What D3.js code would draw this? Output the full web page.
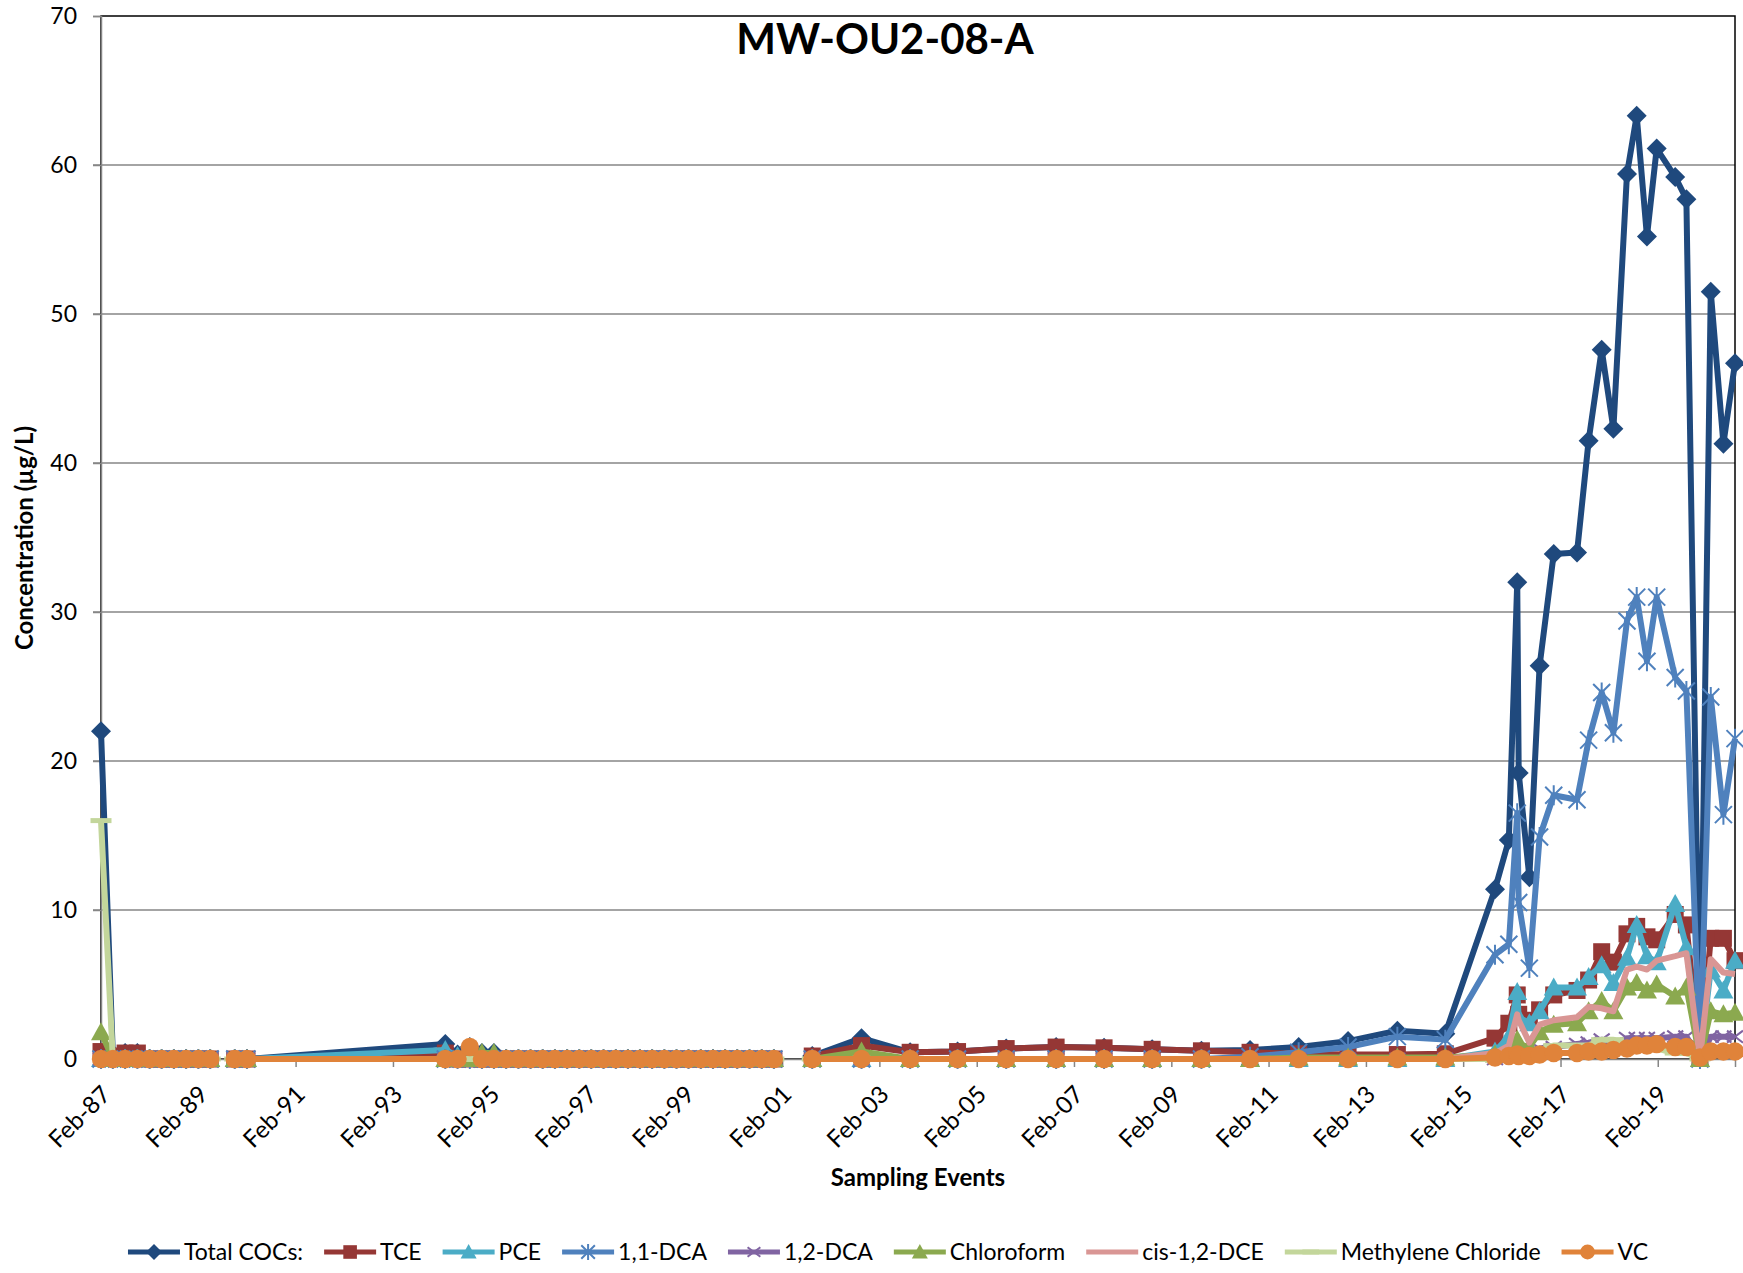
<!DOCTYPE html>
<html>
<head>
<meta charset="utf-8">
<script src="https://cdn.jsdelivr.net/npm/d3@7/dist/d3.min.js"></script>
<style>
  body { margin: 0; background: #fff; }
  text { font-family: Lato, "Open Sans", sans-serif; fill: #000; }
</style>
</head>
<body>
<div class="chart"></div>
<script>
var width = 1743, height = 1273;

// sampling dates (null rows = no sample, line breaks there)
var dates = [
  // 1987 - 1990
  "1987-02-01","1987-05-01","1987-08-01","1987-11-01","1988-02-01","1988-05-01","1988-08-01",
  "1988-11-01","1989-02-01","1989-05-01","1989-08-01","1989-11-01","1990-02-01",
  // 1994 - 2000 quarterly
  "1994-03-01","1994-06-01","1994-09-01","1994-12-01","1995-03-01","1995-06-01","1995-09-01",
  "1995-12-01","1996-03-01","1996-06-01","1996-09-01","1996-12-01","1997-03-01","1997-06-01",
  "1997-09-01","1997-12-01","1998-03-01","1998-06-01","1998-09-01","1998-12-01","1999-03-01",
  "1999-06-01","1999-09-01","1999-12-01","2000-03-01","2000-06-01","2000-09-01","2000-12-01",
  "2001-05-01",
  // 2001 - 2014 annual
  "2001-09-15","2002-09-20","2003-09-20","2004-09-10","2005-09-10","2006-09-20","2007-09-15",
  "2008-09-10","2009-09-15","2010-09-15","2011-09-15","2012-09-20","2013-09-25","2014-09-20",
  // 2015 - 2020
  "2015-09-28","2016-01-10","2016-03-13","2016-03-24","2016-06-12","2016-08-28","2016-12-12",
  "2017-06-05","2017-08-31","2017-12-07","2018-03-05","2018-06-15","2018-08-27","2018-11-12",
  "2019-01-24","2019-06-12","2019-09-04","2019-12-15","2020-03-05","2020-06-08","2020-09-03"
];

var totalCOCs = [
  22.0, 0.3, 0.4, 0.4, 0, 0, 0, 0, 0, 0, null, 0, 0,
  1.0, 0.3, 0.8, 0.4, 0.4, 0, 0, 0, 0, 0, 0, 0, 0, 0, 0, 0, 0, 0, 0, 0, 0, 0, 0, 0, 0, 0, 0, 0,
  null,
  0.2, 1.4, 0.45, 0.5, 0.7, 0.8, 0.75, 0.65, 0.55, 0.6, 0.8, 1.2, 1.9, 1.7,
  11.4, 14.7, 32.0, 19.2, 12.2, 26.4, 33.9, 34.0, 41.5, 47.6, 42.3, 59.4, 63.3, 55.2, 61.1, 59.2, 57.7, 0.3, 51.5, 41.3, 46.7
];
var tce = [
  0.5, 0.2, 0.4, 0.4, 0, 0, 0, 0, 0, 0, null, 0, 0,
  0.4, 0, 0, 0, 0, 0, 0, 0, 0, 0, 0, 0, 0, 0, 0, 0, 0, 0, 0, 0, 0, 0, 0, 0, 0, 0, 0, 0,
  null,
  0.2, 0.9, 0.45, 0.5, 0.7, 0.8, 0.75, 0.65, 0.55, 0.45, 0.35, 0.3, 0.3, 0.35,
  1.4, 2.4, 4.3, 3.0, 2.6, 3.3, 4.3, 4.6, 5.3, 7.2, 6.5, 8.4, 8.9, 8.2, 8.0, 9.7, 9.0, 0.1, 8.1, 8.1, 6.6
];
var pce = [
  0, 0, 0, 0, 0, 0, 0, 0, 0, 0, null, 0, 0,
  0.6, 0.2, 0, 0, 0, 0, 0, 0, 0, 0, 0, 0, 0, 0, 0, 0, 0, 0, 0, 0, 0, 0, 0, 0, 0, 0, 0, 0,
  null,
  0, 0, 0, 0, 0, 0, 0, 0, 0, 0, 0, 0, 0, 0,
  0.5, 1.5, 4.5, 2.8, 2.4, 3.2, 4.8, 4.8, 5.5, 6.3, 5.1, 6.8, 9.0, 6.9, 6.5, 10.4, 7.5, 0, 6.0, 4.6, 6.6
];
var dca11 = [
  0, 0, 0, 0, 0, 0, 0, 0, 0, 0, null, 0, 0,
  0, 0, 0, 0, 0, 0, 0, 0, 0, 0, 0, 0, 0, 0, 0, 0, 0, 0, 0, 0, 0, 0, 0, 0, 0, 0, 0, 0,
  null,
  0, 0, 0, 0, 0, 0, 0, 0, 0, 0.15, 0.45, 0.8, 1.5, 1.3,
  7.0, 7.7, 16.5, 10.5, 6.1, 14.9, 17.7, 17.4, 21.4, 24.6, 21.9, 29.4, 31.0, 26.7, 31.0, 25.6, 24.7, 0, 24.3, 16.4, 21.5
];
var dca12 = [
  0, 0, 0, 0, 0, 0, 0, 0, 0, 0, null, 0, 0,
  0, 0, 0, 0, 0, 0, 0, 0, 0, 0, 0, 0, 0, 0, 0, 0, 0, 0, 0, 0, 0, 0, 0, 0, 0, 0, 0, 0,
  null,
  0, 0, 0, 0, 0, 0, 0, 0, 0, 0, 0, 0, 0, 0,
  0, 0.1, 0.3, 0.3, 0.5, 0.7, 0.8, 1.0, 1.1, 1.3, 1.0, 1.4, 1.4, 1.4, 1.4, 1.5, 1.5, 0, 1.5, 1.5, 1.5
];
var chloroform = [
  1.8, 0, 0, 0, 0, 0, 0, 0, 0, 0, null, 0, 0,
  0, 0, 0, 0.4, 0.4, 0, 0, 0, 0, 0, 0, 0, 0, 0, 0, 0, 0, 0, 0, 0, 0, 0, 0, 0, 0, 0, 0, 0,
  null,
  0, 0.5, 0, 0, 0, 0, 0, 0, 0, 0, 0.1, 0.1, 0.1, 0.1,
  0.3, 0.5, 1.3, 1.0, 0.8, 1.8, 2.3, 2.4, 3.2, 3.9, 3.2, 4.8, 5.1, 4.6, 5.0, 4.2, 4.8, 0, 3.2, 3.0, 3.1
];
var cisDCE = [
  0, 0, 0, 0, 0, 0, 0, 0, 0, 0, null, 0, 0,
  0, 0, 0, 0, 0, 0, 0, 0, 0, 0, 0, 0, 0, 0, 0, 0, 0, 0, 0, 0, 0, 0, 0, 0, 0, 0, 0, 0,
  null,
  0, 0, 0, 0, 0, 0, 0, 0, 0, 0, 0, 0, 0, 0,
  0.4, 0.9, 3.0, 2.6, 1.1, 2.3, 2.6, 2.8, 3.5, 3.4, 3.2, 6.0, 6.2, 6.0, 6.6, 6.9, 7.1, 0, 6.7, 5.8, 5.7
];
var meCl = [
  16.0, 0, 0, 0, 0, 0, 0, 0, 0, 0, null, 0, 0,
  0, 0, 0, 0, 0, 0, 0, 0, 0, 0, 0, 0, 0, 0, 0, 0, 0, 0, 0, 0, 0, 0, 0, 0, 0, 0, 0, 0,
  null,
  0, 0, 0, 0, 0, 0, 0, 0, 0, 0, 0, 0, 0, 0,
  0, 0, 0, 0, 0.3, 0.5, 0.9, 0.9, 0.9, 1.3, 1.3, 0.7, 0.7, 0.7, 0.7, 0.4, 0.4, 0, 0.4, 0.4, 0.4
];
var vc = [
  0, 0, 0, 0, 0, 0, 0, 0, 0, 0, null, 0, 0,
  0, 0, 0.8, 0, 0, 0, 0, 0, 0, 0, 0, 0, 0, 0, 0, 0, 0, 0, 0, 0, 0, 0, 0, 0, 0, 0, 0, 0,
  null,
  0, 0, 0, 0, 0, 0, 0, 0, 0, 0, 0, 0, 0, 0,
  0.1, 0.2, 0.3, 0.2, 0.2, 0.3, 0.4, 0.4, 0.5, 0.5, 0.6, 0.7, 0.9, 0.9, 1.0, 0.8, 0.8, 0.1, 0.5, 0.5, 0.5
];

var yTicks = [0, 10, 20, 30, 40, 50, 60, 70];
var xTickYears = [1987, 1989, 1991, 1993, 1995, 1997, 1999, 2001, 2003, 2005, 2007, 2009, 2011, 2013, 2015, 2017, 2019];

var series = [
  { name: "Total COCs:", values: totalCOCs, color: "#1F497D", marker: "diamond" },
  { name: "TCE", values: tce, color: "#953735", marker: "square" },
  { name: "PCE", values: pce, color: "#4BACC6", marker: "triangle" },
  { name: "1,1-DCA", values: dca11, color: "#4F81BD", marker: "star" },
  { name: "1,2-DCA", values: dca12, color: "#8064A2", marker: "x" },
  { name: "Chloroform", values: chloroform, color: "#8BA94F", marker: "triangle" },
  { name: "cis-1,2-DCE", values: cisDCE, color: "#D99694", marker: "none" },
  { name: "Methylene Chloride", values: meCl, color: "#C3D69B", marker: "dash" },
  { name: "VC", values: vc, color: "#E0833A", marker: "circle" }
];

var parse = d3.timeParse("%Y-%m-%d");
var dateObjs = dates.map(parse);

var margin = { left: 101, right: 8, top: 16, bottom: 214 };
var plotW = width - margin.left - margin.right;
var plotH = height - margin.top - margin.bottom;

var svg = d3.select('.chart')
  .append('svg')
  .attr('width', width)
  .attr('height', height);

svg.append('rect').attr('width', width).attr('height', height).attr('fill', '#fff');

var g = svg.append('g')
  .attr('transform', 'translate(' + margin.left + ',' + margin.top + ')');

var x = d3.scaleTime()
  .domain([dateObjs[0], dateObjs[dateObjs.length - 1]])
  .range([0, plotW]);

var y = d3.scaleLinear()
  .domain([0, 70])
  .range([plotH, 0]);

// GRID
g.selectAll('.grid')
  .data(yTicks.slice(1, -1))
  .enter()
  .append('line')
  .attr('x1', -8).attr('x2', plotW)
  .attr('y1', function(d) { return y(d); })
  .attr('y2', function(d) { return y(d); })
  .attr('stroke', '#868686')
  .attr('stroke-width', 1.5);

// plot border
g.append('rect')
  .attr('width', plotW).attr('height', plotH)
  .attr('fill', 'none')
  .attr('stroke', '#000')
  .attr('stroke-width', 1.5);

// AXES
var xTicks = xTickYears.map(function(yr) { return new Date(yr, 1, 1); });

var xAxis = g.append('g')
  .attr('transform', 'translate(0,' + plotH + ')')
  .call(d3.axisBottom(x).tickValues(xTicks).tickSize(8).tickFormat(''));
xAxis.select('.domain').attr('stroke', '#868686').attr('stroke-width', 1.5);
xAxis.selectAll('.tick line').attr('stroke', '#868686').attr('stroke-width', 1.5);

g.selectAll('.xlabel')
  .data(xTicks)
  .enter()
  .append('text')
  .attr('text-anchor', 'end')
  .attr('font-size', 24)
  .attr('transform', function(d) {
    return 'translate(' + (x(d) + 11) + ',' + (plotH + 37) + ') rotate(-45)';
  })
  .text(d3.timeFormat('%b-%y'));

var yAxis = g.append('g')
  .call(d3.axisLeft(y).tickValues(yTicks).tickSize(8).tickPadding(16));
yAxis.select('.domain').attr('stroke', '#868686').attr('stroke-width', 1.5);
yAxis.selectAll('.tick line').attr('stroke', '#868686').attr('stroke-width', 1.5);
yAxis.selectAll('.tick text')
  .attr('font-size', 23)
  .attr('font-family', 'Lato, sans-serif')
  .attr('fill', '#000');

// MARKERS
function markerPath(type, s) {
  switch (type) {
    case 'diamond': return 'M0,' + (-s) + 'L' + s + ',0L0,' + s + 'L' + (-s) + ',0Z';
    case 'square': return 'M' + (-s * 0.85) + ',' + (-s * 0.85) + 'h' + (s * 1.7) + 'v' + (s * 1.7) + 'h' + (-s * 1.7) + 'Z';
    case 'triangle': return 'M0,' + (-s) + 'L' + (s * 1.0) + ',' + (s * 0.8) + 'L' + (-s * 1.0) + ',' + (s * 0.8) + 'Z';
    case 'star': return 'M' + (-s * 0.85) + ',' + (-s * 0.85) + 'L' + (s * 0.85) + ',' + (s * 0.85) +
      'M' + (-s * 0.85) + ',' + (s * 0.85) + 'L' + (s * 0.85) + ',' + (-s * 0.85) +
      'M0,' + (-s) + 'L0,' + s;
    case 'x': return 'M' + (-s * 0.8) + ',' + (-s * 0.6) + 'L' + (s * 0.8) + ',' + (s * 0.6) +
      'M' + (-s * 0.8) + ',' + (s * 0.6) + 'L' + (s * 0.8) + ',' + (-s * 0.6);
    case 'dash': return 'M' + (-s * 1.05) + ',-2.5h' + (s * 2.1) + 'v5h' + (-s * 2.1) + 'Z';
    case 'circle': return d3.symbol().type(d3.symbolCircle).size(Math.PI * s * s * 0.85)();
  }
  return '';
}
function isStroked(type) { return type === 'star' || type === 'x'; }

var line = d3.line()
  .defined(function(d) { return d.v !== null; })
  .x(function(d) { return x(d.date); })
  .y(function(d) { return y(d.v); });

series.forEach(function(s) {
  var pts = s.values.map(function(v, i) { return { date: dateObjs[i], v: v }; });
  var sg = g.append('g').attr('class', 'series');
  sg.append('path')
    .datum(pts)
    .attr('d', line)
    .attr('fill', 'none')
    .attr('stroke', s.color)
    .attr('stroke-width', 6)
    .attr('stroke-linejoin', 'round');

  if (s.marker === 'none') return;
  sg.selectAll('.mk')
    .data(pts.filter(function(d) { return d.v !== null; }))
    .enter()
    .append('path')
    .attr('transform', function(d) { return 'translate(' + x(d.date) + ',' + y(d.v) + ')'; })
    .attr('d', markerPath(s.marker, 10))
    .attr('fill', isStroked(s.marker) ? 'none' : s.color)
    .attr('stroke', s.color)
    .attr('stroke-width', isStroked(s.marker) ? 2 : 0);
});

// TITLES
svg.append('text')
  .attr('x', 885).attr('y', 54)
  .attr('text-anchor', 'middle')
  .attr('font-size', 42)
  .attr('font-weight', 'bold')
  .text('MW-OU2-08-A');

svg.append('text')
  .attr('transform', 'translate(33,' + (margin.top + 522) + ') rotate(-90)')
  .attr('text-anchor', 'middle')
  .attr('font-size', 24)
  .attr('font-weight', 'bold')
  .text('Concentration (µg/L)');

svg.append('text')
  .attr('x', 918).attr('y', 1186)
  .attr('text-anchor', 'middle')
  .attr('font-size', 24)
  .attr('font-weight', 'bold')
  .text('Sampling Events');

// LEGEND
var legend = svg.append('g');
var lx = 0, legY = 1252, gap = 21;
series.forEach(function(s) {
  var it = legend.append('g').attr('transform', 'translate(' + lx + ',0)');
  it.append('line')
    .attr('x1', 0).attr('x2', 52)
    .attr('y1', legY).attr('y2', legY)
    .attr('stroke', s.color)
    .attr('stroke-width', 5);
  if (s.marker !== 'none') {
    it.append('path')
      .attr('transform', 'translate(26,' + legY + ')')
      .attr('d', markerPath(s.marker, 8))
      .attr('fill', isStroked(s.marker) ? 'none' : s.color)
      .attr('stroke', s.color)
      .attr('stroke-width', isStroked(s.marker) ? 2 : 0);
  }
  var t = it.append('text')
    .attr('x', 56).attr('y', legY + 8)
    .attr('font-size', 23)
    .text(s.name);
  lx += 56 + t.node().getComputedTextLength() + gap;
});
var legW = lx - gap;
legend.attr('transform', 'translate(' + (888 - legW / 2) + ',0)');
</script>
</body>
</html>
